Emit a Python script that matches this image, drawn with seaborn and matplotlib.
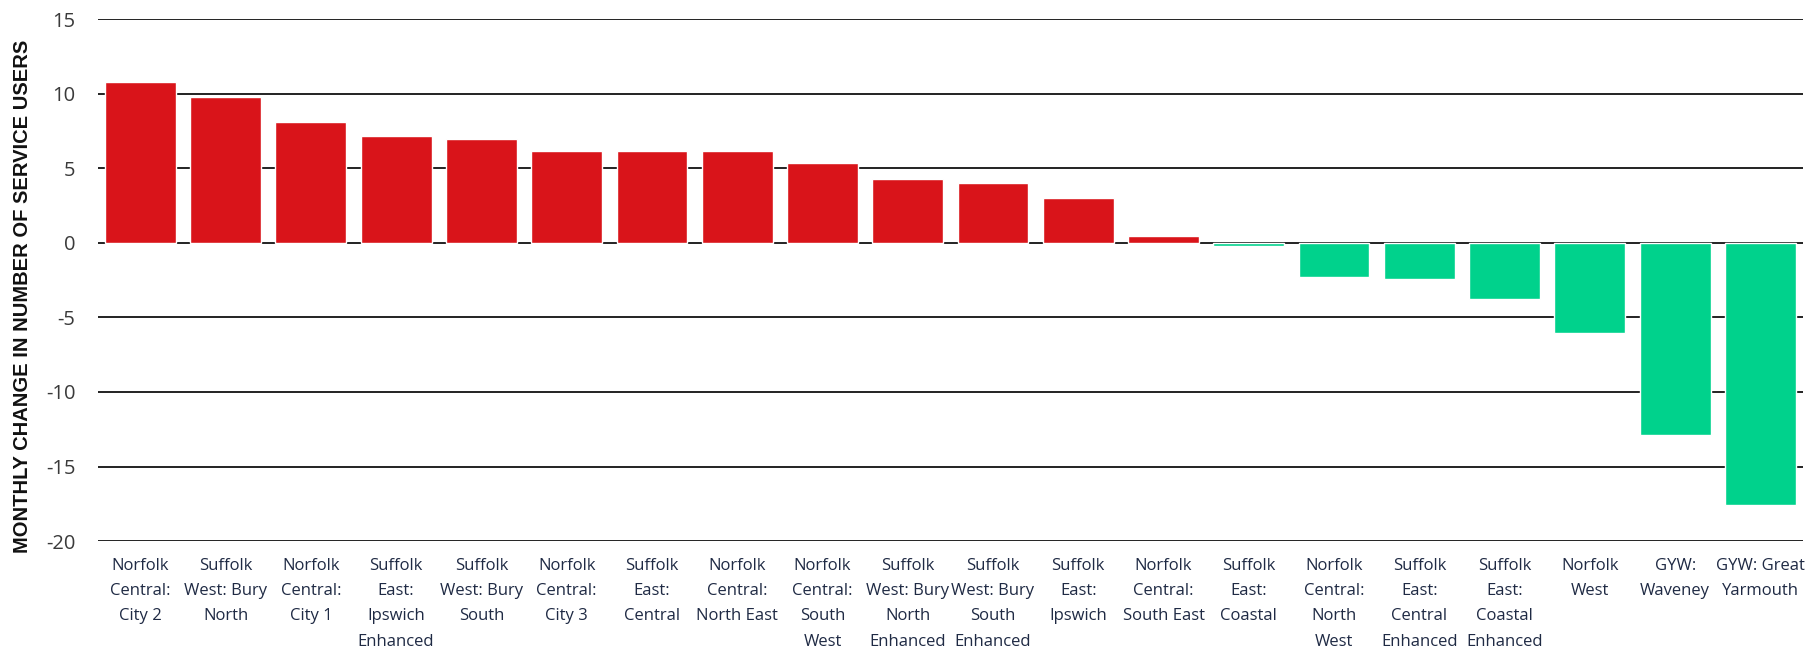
import matplotlib
matplotlib.use("Agg")
import matplotlib.pyplot as plt
import seaborn as sns
import pandas as pd

categories = [
    "Norfolk\nCentral:\nCity 2", "Suffolk\nWest: Bury\nNorth", "Norfolk\nCentral:\nCity 1",
    "Suffolk\nEast:\nIpswich\nEnhanced", "Suffolk\nWest: Bury\nSouth", "Norfolk\nCentral:\nCity 3",
    "Suffolk\nEast:\nCentral", "Norfolk\nCentral:\nNorth East", "Norfolk\nCentral:\nSouth\nWest",
    "Suffolk\nWest: Bury\nNorth\nEnhanced", "Suffolk\nWest: Bury\nSouth\nEnhanced", "Suffolk\nEast:\nIpswich",
    "Norfolk\nCentral:\nSouth East", "Suffolk\nEast:\nCoastal", "Norfolk\nCentral:\nNorth\nWest",
    "Suffolk\nEast:\nCentral\nEnhanced", "Suffolk\nEast:\nCoastal\nEnhanced", "Norfolk\nWest",
    "GYW:\nWaveney", "GYW: Great\nYarmouth",
]
values = [10.8, 9.8, 8.15, 7.15, 6.95, 6.15, 6.15, 6.15, 5.35, 4.3,
          4.0, 3.0, 0.5, -0.2, -2.3, -2.45, -3.75, -6.05, -12.9, -17.6]
y_ticks = [15, 10, 5, 0, -5, -10, -15, -20]
y_label = "MONTHLY CHANGE IN NUMBER OF SERVICE USERS"

RED = "#D9141A"
GREEN = "#00D28C"

df = pd.DataFrame({"cat": categories, "val": values})
df["sign"] = ["pos" if v >= 0 else "neg" for v in values]

sns.set_theme(style="white")

fig = plt.figure(figsize=(18.09, 6.49), dpi=100)
ax = fig.add_axes([0.054, 0.1664, 0.9427, 0.8036])

sns.barplot(data=df, x="cat", y="val", hue="sign", palette={"pos": RED, "neg": GREEN},
            dodge=False, legend=False, width=0.83, ax=ax, zorder=2, saturation=1)

ax.set_xlim(-0.5, len(categories) - 0.5)
ax.set_ylim(-20, 15)
ax.set_yticks(y_ticks)
ax.set_yticklabels([str(t) for t in y_ticks], fontsize=14.5, color="#3a3a3a",
                   family=["Open Sans", "DejaVu Sans"], ha="right")
ax.yaxis.grid(True, color="#222222", lw=1.4)
ax.set_axisbelow(True)
ax.set_xticks(range(len(categories)))
ax.set_xticklabels(categories, fontsize=12, color="#1F2A44",
                   family=["Open Sans", "DejaVu Sans"], linespacing=1.78, va="top")
ax.tick_params(axis="x", length=0, pad=12)
ax.tick_params(axis="y", length=0, pad=16)
for s in ax.spines.values():
    s.set_visible(False)
ax.set_xlabel("")
ax.set_ylabel(y_label, fontsize=14.5, fontweight="bold", color="#111111",
              family=["Liberation Sans", "DejaVu Sans"])
ax.yaxis.set_label_coords(-0.0385, 0.47)

fig.savefig("out.png", dpi=100)
